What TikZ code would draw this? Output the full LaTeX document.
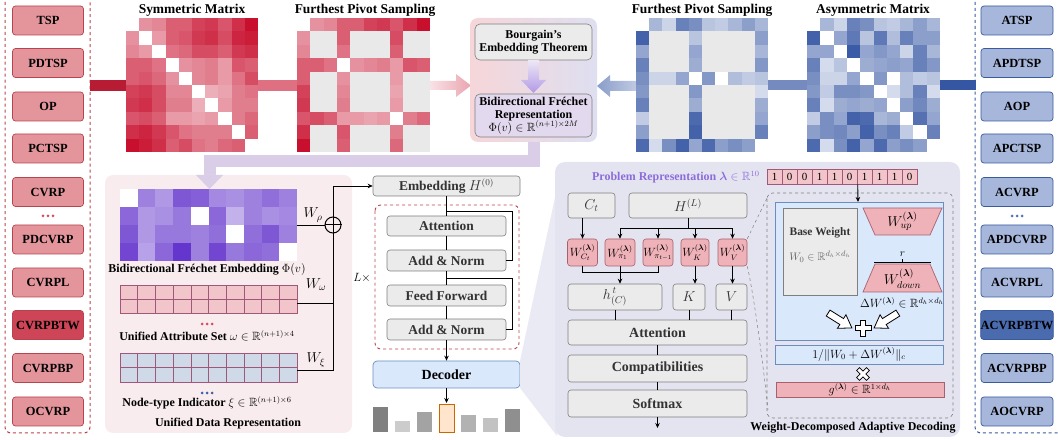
\documentclass[tikz,border=0pt]{standalone}
\usepackage{amsmath}
\usepackage{amssymb}
\usepackage{fontspec}
\setmainfont{Liberation Serif}
\usepackage{tikz}
\usetikzlibrary{arrows.meta,positioning}

\definecolor{redline}{HTML}{B8434F}
\definecolor{redfill}{HTML}{E3959B}
\definecolor{reddark}{HTML}{CD4556}
\definecolor{blueline}{HTML}{3A5A9E}
\definecolor{bluefill}{HTML}{A7B7DC}
\definecolor{bluedark}{HTML}{4B6BAF}
\definecolor{redm}{HTML}{C8102E}
\definecolor{bluem}{HTML}{2A4D9E}
\definecolor{purm}{HTML}{6232CC}
\definecolor{fpsgray}{HTML}{E9E9E9}
\definecolor{boxgray}{HTML}{EBEBEB}
\definecolor{edgegray}{HTML}{7F7F7F}
\definecolor{lavfill}{HTML}{E4E4F1}
\definecolor{lavfan}{HTML}{EAEAF4}
\definecolor{lavarrow}{HTML}{D9CDE8}
\definecolor{udrfill}{HTML}{F9ECEE}
\definecolor{pinkcell}{HTML}{F2C5CA}
\definecolor{bluecell}{HTML}{CFD9E8}
\definecolor{cellline}{HTML}{A0587A}
\definecolor{decfill}{HTML}{DAE8FC}
\definecolor{decline}{HTML}{6C8EBF}
\definecolor{wfill}{HTML}{EFB2B8}
\definecolor{wline}{HTML}{A8606E}
\definecolor{probpurple}{HTML}{8C6CDA}
\definecolor{midpink}{HTML}{F6D6D9}
\definecolor{midlav}{HTML}{DEDFF0}
\definecolor{repfill}{HTML}{E3D9EE}

\begin{document}
\begin{tikzpicture}[x=1bp,y=-1bp,>=Stealth]
\useasboundingbox (0,0) rectangle (1058,440);
\clip (0,0) rectangle (1058,440);
\tikzstyle{probR}=[draw=redline,fill=redfill,rounded corners=3bp,line width=0.7bp,minimum width=71bp,minimum height=29bp,inner sep=0pt,font=\fontsize{12.5}{14}\selectfont\bfseries]
\tikzstyle{probRdark}=[probR,fill=reddark]
\tikzstyle{probB}=[probR,draw=blueline,fill=bluefill,minimum width=72bp]
\tikzstyle{probBdark}=[probB,fill=bluedark]
\tikzstyle{mtitle}=[font=\fontsize{13.5}{15}\selectfont\bfseries]
\tikzstyle{lbltext}=[font=\fontsize{12}{14}\selectfont\bfseries,inner sep=0pt]
\tikzstyle{layer}=[draw=edgegray,fill=boxgray,rounded corners=3bp,line width=0.6bp,inner sep=0pt,text=black!80,font=\fontsize{13.5}{15}\selectfont\bfseries]
\tikzstyle{wbox}=[draw=wline,fill=wfill,rounded corners=3bp,line width=0.6bp,inner sep=0pt,minimum width=30bp,minimum height=27bp,font=\fontsize{12}{14}\selectfont]
\tikzstyle{bitcell}=[draw=cellline,fill=pinkcell,line width=0.6bp,minimum width=15bp,minimum height=15bp,inner sep=0pt,font=\fontsize{11}{12}\selectfont]
\tikzstyle{conn}=[draw,line width=0.9bp]
\tikzstyle{arrow}=[conn,-{Stealth[length=5bp,width=4.5bp]}]
\tikzstyle{hollow}=[draw,fill=white,line width=0.8bp,line join=miter]
\def\symdist{{0,35,40,60,60,75,80,65,85,100},{35,0,30,60,65,80,85,70,90,95},{40,30,0,50,55,70,70,60,80,85},{60,60,50,0,35,40,45,30,65,60},{60,65,55,35,0,40,45,30,50,70},{75,80,70,40,40,0,20,25,45,50},{80,85,70,45,45,20,0,30,45,45},{65,70,60,30,30,25,30,0,45,55},{85,90,80,65,50,45,45,45,0,60},{100,95,85,60,70,50,45,55,60,0}}
\def\asymdist{{0,35,15,70,60,25,20,35,50,35},{90,0,45,75,25,75,30,70,50,50},{45,45,0,95,45,55,45,15,70,35},{70,10,25,0,40,45,50,45,70,55},{60,15,15,45,0,55,0,30,20,25},{55,20,60,60,55,0,10,30,70,10},{70,10,40,45,40,45,0,50,65,40},{20,60,45,90,85,35,40,0,80,45},{50,60,65,50,90,60,70,20,0,70},{85,10,60,90,45,85,50,60,50,0}}
\def\frechet{{0,50,35,75,70,45,40,50,60,50},{65,35,40,55,0,65,20,50,40,45},{75,35,55,55,50,60,0,60,75,50},{85,30,65,95,50,85,55,65,60,0}}

% problem lists
\draw[dashed,redline,line width=1bp,rounded corners=6bp] (5,-10) rectangle (90,433);
\foreach \y/\name/\lbl in {20.5/tsp/TSP,63/pdtsp/PDTSP,106.5/op/OP,148.5/pctsp/PCTSP,192/cvrp/CVRP,239.5/pdcvrp/PDCVRP,282.5/cvrpl/CVRPL,368/cvrpbp/CVRPBP,411.5/ocvrp/OCVRP}
  \node[probR] (\name) at (48,\y) {\lbl};
\node[probRdark] (cvrpbtw) at (48,325) {CVRPBTW};
\foreach \dx in {-5,0,5} \fill[redm!75] ({48+\dx},216) circle (1.5bp);
\draw[dashed,blueline,line width=1bp,rounded corners=6bp] (975,-10) rectangle (1070,433);
\foreach \y/\name/\lbl in {20.5/atsp/ATSP,63/apdtsp/APDTSP,106.5/aop/AOP,148.5/apctsp/APCTSP,192/acvrp/ACVRP,239.5/apdcvrp/APDCVRP,282.5/acvrpl/ACVRPL,368/acvrpbp/ACVRPBP,411.5/aocvrp/AOCVRP}
  \node[probB] (\name) at (1017,\y) {\lbl};
\node[probBdark] (acvrpbtw) at (1017,325) {ACVRPBTW};
\foreach \dx in {-5,0,5} \fill[bluem!80] ({1017+\dx},216) circle (1.5bp);

% matrices
\node[mtitle] (symtitle) at (192,10) {Symmetric Matrix};
\node[mtitle] (fpsltitle) at (365,10) {Furthest Pivot Sampling};
\node[mtitle] (fpsrtitle) at (702,10) {Furthest Pivot Sampling};
\node[mtitle] (asymtitle) at (873,10) {Asymmetric Matrix};
\fill[redm!90!black!95] (90,80) rectangle (126,91);
\fill[redm!60!white] (258,80) rectangle (297,91);
\shade[left color=redm!12!white,right color=redm!38!white] (430,81) -- (456,81) -- (456,74) -- (471,85.5) -- (456,97) -- (456,90) -- (430,90) -- cycle;
\fill[bluem!95] (940,80) rectangle (976,90);
\fill[bluem!65!white] (768,80) rectangle (807,90);
\shade[left color=bluem!55!white,right color=bluem!30!white] (636,81) -- (610,81) -- (610,75) -- (597,86) -- (610,97) -- (610,91) -- (636,91) -- cycle;
\foreach \r [count=\i from 0] in \symdist {
  \foreach \v [count=\j from 0] in \r {
    \pgfmathtruncatemacro\vv{\v>0 ? 18+0.82*\v : 0}
    \fill[redm!\vv!white] ({126+13.2*\j},{18+13.4*\i}) rectangle ++(13.4,13.6);
    \pgfmathtruncatemacro\piv{(\i==0)||(\i==3)||(\i==7)||(\j==0)||(\j==3)||(\j==7)}
    \ifnum\piv=1 \fill[redm!\vv!white] ({297+13.3*\j},{18+13.4*\i}) rectangle ++(13.5,13.6);
    \else \fill[fpsgray] ({297+13.3*\j},{18+13.4*\i}) rectangle ++(13.5,13.6); \fi
  }
}
\foreach \r [count=\i from 0] in \asymdist {
  \foreach \v [count=\j from 0] in \r {
    \pgfmathtruncatemacro\vv{\v>0 ? 12+0.85*\v : 0}
    \fill[bluem!\vv!white] ({807+13.3*\j},{18+13.4*\i}) rectangle ++(13.5,13.6);
    \pgfmathtruncatemacro\piv{(\i==0)||(\i==4)||(\i==9)||(\j==0)||(\j==4)||(\j==9)}
    \ifnum\piv=1 \fill[bluem!\vv!white] ({636+13.2*\j},{18+13.4*\i}) rectangle ++(13.4,13.6);
    \else \fill[fpsgray] ({636+13.2*\j},{18+13.4*\i}) rectangle ++(13.4,13.6); \fi
  }
}

% Bourgain block
\draw[lavarrow,line width=12bp] (533.5,140) |- (209.5,161) -- (209.5,179);
\node[left color=midpink,right color=midlav,rounded corners=8bp,minimum width=127bp,minimum height=124bp] (bourgainbg) at (533.5,80) {};
\node[draw=edgegray,fill=boxgray,rounded corners=5bp,line width=0.6bp,minimum width=117bp,minimum height=36bp,inner sep=0pt,align=center,font=\fontsize{12}{13}\selectfont\bfseries] (bourgain) at (533.5,42) {Bourgain's\\Embedding Theorem};
\node[draw=edgegray,fill=repfill,rounded corners=5bp,line width=0.6bp,minimum width=117bp,minimum height=43bp,inner sep=0pt,align=center,font=\fontsize{12}{13}\selectfont\bfseries] (bfrep) at (533.5,115.5) {Bidirectional Fréchet\\Representation\\{\normalfont$\Phi(v)\in\mathbb{R}^{(n+1)\times 2M}$}};
\shade[top color=repfill!60,bottom color=purm!50!white] (528,60) -- (539,60) -- (539,80) -- (546,80) -- (533.5,93) -- (521,80) -- (528,80) -- cycle;

% unified data representation
\fill[udrfill,rounded corners=8bp] (105,175) rectangle (352,433);
\fill[lavarrow] (196,175) -- (223,175) -- (209.5,189) -- cycle;
\foreach \r [count=\i from 0] in \frechet {
  \foreach \v [count=\j from 0] in \r {
    \pgfmathtruncatemacro\vv{\v>0 ? 22+0.8*\v : 0}
    \fill[purm!\vv!white] ({120+17.7*\j},{189+18*\i}) rectangle ++(17.9,18.2);
  }
}
\foreach \j in {0,...,9} \foreach \i in {0,1} {
  \draw[cellline,fill=pinkcell,line width=0.6bp] ({120+17.7*\j},{285+14*\i}) rectangle ++(17.7,14);
  \draw[cellline,fill=bluecell,line width=0.6bp] ({120+17.7*\j},{353+14.5*\i}) rectangle ++(17.7,14.5);
}
\coordinate (heatout) at (297,225);
\coordinate (attrout) at (297,303);
\coordinate (typeout) at (297,370);
\node[lbltext] (heatlbl) at (207,270) {Bidirectional Fréchet Embedding {\normalfont$\Phi(v)$}};
\foreach \dx in {-5,0,5} \fill[redm!75] ({207+\dx},324) circle (1.5bp);
\node[lbltext] (attrlbl) at (207,336) {Unified Attribute Set {\normalfont$\omega\in\mathbb{R}^{(n+1)\times 4}$}};
\foreach \dx in {-5,0,5} \fill[bluem!90] ({207+\dx},393) circle (1.5bp);
\node[lbltext] (typelbl) at (207,403) {Node-type Indicator {\normalfont$\xi\in\mathbb{R}^{(n+1)\times 6}$}};
\node[lbltext] (udrlbl) at (228,424) {Unified Data Representation};
\node[circle,draw,line width=1bp,minimum size=16bp,inner sep=0pt] (oplus) at (333,225) {};
\draw[line width=1bp] (oplus.north) -- (oplus.south) (oplus.west) -- (oplus.east);
\node[font=\fontsize{14}{15}\selectfont] at (313,215) {$W_\rho$};
\node[font=\fontsize{14}{15}\selectfont] at (316,285) {$W_\omega$};
\node[font=\fontsize{14}{15}\selectfont] at (316,360) {$W_\xi$};
\path[conn] (heatout) -- (oplus.west);
\path[conn] (attrout) -- (333,303);
\path[conn] (typeout) -| (oplus.south);

% encoder
\node[layer,minimum width=147bp,minimum height=20bp] (emb) at (446.5,186) {Embedding {\normalfont$H^{(0)}$}};
\path[arrow] (oplus.north) |- (emb.west);
\draw[dashed,redline,line width=0.9bp,rounded corners=6bp] (375,205) rectangle (519,349);
\node[font=\fontsize{12}{13}\selectfont] (lx) at (362,278) {$L\times$};
\node[layer,minimum width=119bp,minimum height=20bp] (attn) at (446.5,226) {Attention};
\node[layer,minimum width=119bp,minimum height=21bp] (an1) at (446.5,260.5) {Add \& Norm};
\node[layer,minimum width=119bp,minimum height=21bp] (ff) at (446.5,295.5) {Feed Forward};
\node[layer,minimum width=119bp,minimum height=21bp] (an2) at (446.5,329.5) {Add \& Norm};
\node[draw=decline,fill=decfill,rounded corners=4bp,line width=0.7bp,minimum width=147bp,minimum height=27bp,inner sep=0pt,font=\fontsize{14}{15}\selectfont\bfseries] (dec) at (446.5,374.5) {Decoder};
\path[conn] (emb) -- (attn);
\path[conn] (attn) -- (an1);
\path[conn] (an1) -- (ff);
\path[conn] (ff) -- (an2);
\path[arrow] (an2) -- (dec);
\coordinate (res1) at (446.5,211);
\coordinate (res2) at (446.5,278);
\path[conn] (res1) -- (512,211) |- (an1.east);
\path[conn] (res2) -- (512,278) |- (an2.east);
\coordinate (decout) at (446.5,403);
\path[arrow] (dec) -- (decout);
\foreach \xa/\tp/\g in {373/407/50,395/421/20,417/412/36,461/415/30,483/418/24,505/409/44}
  \fill[black!\g] (\xa,\tp) rectangle ++(15,{432-\tp});
\draw[draw=orange!80!black,fill=orange!20,line width=0.7bp] (439,404) rectangle (454,432);

% decoder panel
\fill[lavfan] (520,361) -- (557,188) -- (557,436) -- (520,388) -- cycle;
\fill[lavfill,rounded corners=10bp] (555,162) rectangle (960,437);
\node[anchor=east,text=probpurple,font=\fontsize{12}{14}\selectfont\bfseries] (problbl) at (763,177) {Problem Representation {\normalfont$\boldsymbol{\lambda}\in\mathbb{R}^{10}$}};
\foreach \b [count=\k from 0] in {1,0,0,1,1,0,1,1,1,0}
  \node[bitcell] (bit\k) at ({774.5+15*\k},176.5) {\b};
\node[layer,minimum width=47bp,minimum height=25bp,font=\fontsize{14}{15}\selectfont] (ct) at (591.5,205.5) {$C_t$};
\node[layer,minimum width=118bp,minimum height=25bp,font=\fontsize{14}{15}\selectfont] (hl) at (688,205.5) {$H^{(L)}$};
\node[wbox] (wct) at (582.5,252.5) {$W^{(\boldsymbol{\lambda})}_{C_t}$};
\node[wbox] (wpi1) at (620,252.5) {$W^{(\boldsymbol{\lambda})}_{\pi_1}$};
\node[wbox] (wpit) at (658,252.5) {$W^{(\boldsymbol{\lambda})}_{\pi_{t-1}}$};
\node[wbox,minimum width=28bp] (wk) at (695,252.5) {$W^{(\boldsymbol{\lambda})}_{K}$};
\node[wbox,minimum width=29bp] (wv) at (732.5,252.5) {$W^{(\boldsymbol{\lambda})}_{V}$};
\node[layer,minimum width=94bp,minimum height=26bp,font=\fontsize{14}{15}\selectfont] (hct) at (615,297) {$h_{(C)}^{\,t}$};
\node[layer,minimum width=32bp,minimum height=26bp,font=\fontsize{14}{15}\selectfont] (kk) at (689,297) {$K$};
\node[layer,minimum width=31bp,minimum height=26bp,font=\fontsize{14}{15}\selectfont] (vv) at (731.5,297) {$V$};
\node[layer,minimum width=179bp,minimum height=25bp,font=\fontsize{14}{15}\selectfont\bfseries] (att2) at (657.5,332.5) {Attention};
\node[layer,minimum width=179bp,minimum height=27bp,font=\fontsize{14}{15}\selectfont\bfseries] (comp) at (657.5,368.5) {Compatibilities};
\node[layer,minimum width=179bp,minimum height=27bp,font=\fontsize{14}{15}\selectfont\bfseries] (soft) at (657.5,403.5) {Softmax};
\path[arrow] (wct.north |- ct.south) -- (wct.north);
\path[conn] (hl.south) -- ++(0,10) coordinate (hsplit);
\path[conn] (wpi1.north |- hsplit) -- (wv.north |- hsplit);
\foreach \w in {wpi1,wpit,wk,wv}
  \path[arrow] (\w.north |- hsplit) -- (\w.north);
\coordinate (hmerge) at (620,272);
\path[conn] (wct.south) -- (wct.south |- hmerge) -- (wpit.south |- hmerge) -- (wpit.south);
\path[arrow] (wpi1.south) -- (wpi1.south |- hct.north);
\path[arrow] (wk.south) -- (wk.south |- kk.north);
\path[arrow] (wv.south) -- (wv.south |- vv.north);
\path[conn] (hct) -- (hct |- att2.north);
\path[conn] (kk) -- (kk |- att2.north);
\path[conn] (vv) -- (vv |- att2.north);
\path[conn] (att2) -- (comp);
\path[conn] (comp) -- (soft);
\coordinate (softout) at (657.5,428);
\path[arrow] (soft) -- (softout);

% weight-decomposed adaptive decoding
\draw[dashed,edgegray,line width=0.6bp,rounded corners=6bp] (767,193) rectangle (953,418);
\draw[dashed,edgegray,line width=0.5bp] (wv.north east) -- (768,196);
\draw[dashed,edgegray,line width=0.5bp] (wv.south east) .. controls (755,300) and (765,380) .. (768,410);
\node[lbltext] (wdadlbl) at (853,428) {Weight-Decomposed Adaptive Decoding};
\fill[decfill] (775,202) rectangle (943,340);
\draw[decline,line width=0.7bp] (775,202) rectangle (943,340);
\coordinate (wdtop) at (858,202);
\path[arrow] (bit6.south west) ++(1,0) -- (wdtop);
\node[draw=edgegray,fill=boxgray,line width=0.6bp,minimum width=74bp,minimum height=87bp,inner sep=0pt] (basew) at (820,251.5) {};
\node[lbltext,font=\fontsize{11.5}{13}\selectfont\bfseries,text=black!80] at (820,233) {Base Weight};
\node[text=black!60,font=\fontsize{11}{13}\selectfont] at (820,257) {$W_0\in\mathbb{R}^{d_h\times d_h}$};
\draw[wline,fill=wfill,line width=0.7bp] (863,208) -- (942,208) -- (930,235) -- (875,235) -- cycle;
\node[font=\fontsize{14}{15}\selectfont] (wup) at (902.5,221) {$W^{(\boldsymbol{\lambda})}_{up}$};
\draw[wline,fill=wfill,line width=0.7bp] (875,264) -- (930,264) -- (942,292) -- (863,292) -- cycle;
\node[font=\fontsize{14}{15}\selectfont] (wdown) at (902.5,279) {$W^{(\boldsymbol{\lambda})}_{down}$};
\draw[line width=1.1bp] (874,262.5) -- (931,262.5);
\draw[line width=0.6bp] (902.5,262.5) -- (902.5,259.5);
\node[font=\fontsize{11}{12}\selectfont] at (902.5,254) {$r$};
\node[font=\fontsize{12}{13}\selectfont] (dw) at (902,303) {$\Delta W^{(\boldsymbol{\lambda})}\in\mathbb{R}^{d_h\times d_h}$};
\foreach \cx/\ang in {840/-32,886/-148}
  \draw[hollow,shift={(\cx,320.5)},rotate=\ang] (-14,-3.5) -- (2,-3.5) -- (2,-8) -- (14,0) -- (2,8) -- (2,3.5) -- (-14,3.5) -- cycle;
\draw[hollow,shift={(863,328)}] (-2.5,-8) -- (2.5,-8) -- (2.5,-2.5) -- (8,-2.5) -- (8,2.5) -- (2.5,2.5) -- (2.5,8) -- (-2.5,8) -- (-2.5,2.5) -- (-8,2.5) -- (-8,-2.5) -- (-2.5,-2.5) -- cycle;
\node[draw=decline,fill=decfill,line width=0.7bp,minimum width=168bp,minimum height=19bp,inner sep=0pt,font=\fontsize{12}{13}\selectfont] (normbox) at (859,354.5) {$1/\|W_0+\Delta W^{(\boldsymbol{\lambda})}\|_c$};
\draw[hollow,shift={(863,374)},rotate=45] (-2,-7) -- (2,-7) -- (2,-2) -- (7,-2) -- (7,2) -- (2,2) -- (2,7) -- (-2,7) -- (-2,2) -- (-7,2) -- (-7,-2) -- (-2,-2) -- cycle;
\node[draw=wline,fill=wfill,line width=0.7bp,minimum width=168bp,minimum height=15bp,inner sep=0pt,font=\fontsize{12}{13}\selectfont] (gbox) at (860,389.5) {$g^{(\boldsymbol{\lambda})}\in\mathbb{R}^{1\times d_h}$};
\end{tikzpicture}
\end{document}
